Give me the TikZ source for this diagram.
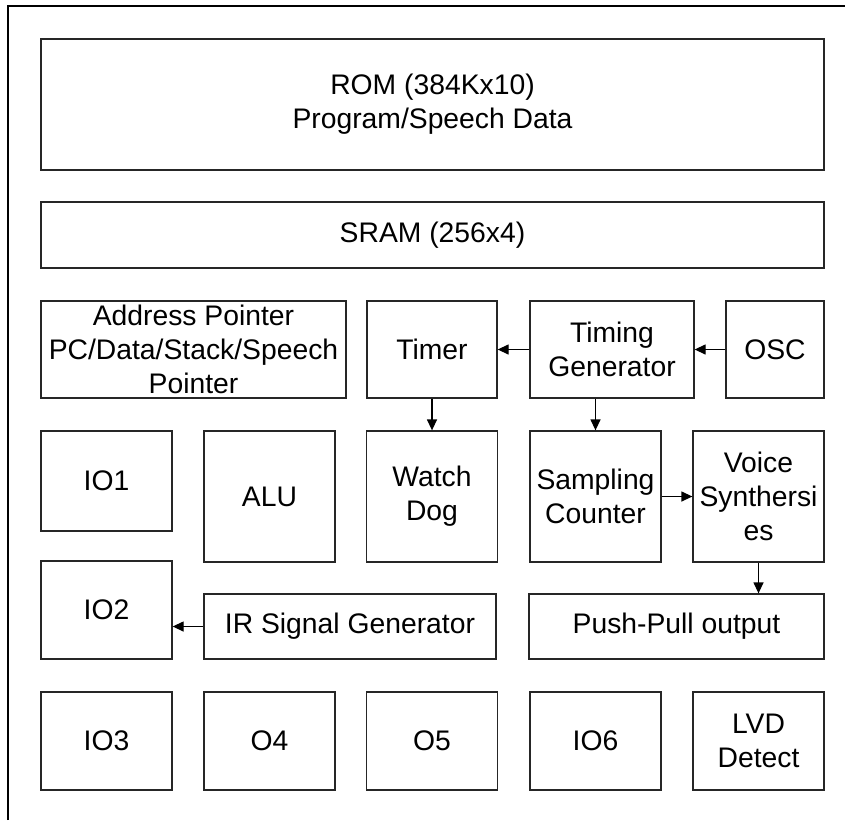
\documentclass[tikz,border=0pt]{standalone}
\usepackage{fontspec}
\setmainfont{Liberation Sans}
\usetikzlibrary{arrows.meta}

\begin{document}
\begin{tikzpicture}[x=1pt, y=-1pt, >={Triangle[length=11pt,width=10pt]}]
    \tikzstyle{block} = [draw=black!85, line width=1.3pt, rectangle, inner sep=0pt,
	align=center, font=\fontsize{28.3}{34}\selectfont]
    \tikzstyle{small} = [block, minimum width=131pt, minimum height=131pt]

    \useasboundingbox (0,0) rectangle (845,820);
    \draw[line width=2.2pt] (8,820) -- (8,6) -- (845,6);

	\path[->, line width=1.3pt]
		node[block, minimum width=783pt, minimum height=131pt] (rom) at (432.5,104.5) {ROM (384Kx10)\\Program/Speech Data}
		node[block, minimum width=783pt, minimum height=66pt] (sram) at (432.5,235) {SRAM (256x4)}

		node[block, minimum width=305pt, minimum height=97pt] (addr) at (193.5,349.5) {Address Pointer\\PC/Data/Stack/Speech\\Pointer}
		node[block, minimum width=130pt, minimum height=97pt] (timer) at (432,349.5) {Timer}
		node[block, minimum width=164pt, minimum height=97pt] (tgen) at (612,349.5) {Timing\\Generator}
		node[block, minimum width=98pt, minimum height=97pt] (osc) at (775,349.5) {OSC}

		node[block, minimum width=131pt, minimum height=100pt] (io1) at (106.5,481) {IO1}
		node[small] (alu) at (269.5,496.5) {ALU}
		node[small] (wdog) at (432,496.5) {Watch\\Dog}
		node[small] (samp) at (595.5,496.5) {Sampling\\Counter}
		node[small] (voice) at (758.5,496.5) {Voice\\Synthersi\\es}

		node[block, minimum width=131pt, minimum height=98pt] (io2) at (106.5,610) {IO2}
		node[block, minimum width=292pt, minimum height=65pt] (irgen) at (350,626.5) {IR Signal Generator}
		node[block, minimum width=295pt, minimum height=65pt] (push) at (676.5,626.5) {Push-Pull output}

		node[block, minimum width=131pt, minimum height=98pt] (io3) at (106.5,741) {IO3}
		node[block, minimum width=131pt, minimum height=98pt] (o4) at (269.5,741) {O4}
		node[block, minimum width=131pt, minimum height=98pt] (o5) at (432,741) {O5}
		node[block, minimum width=131pt, minimum height=98pt] (io6) at (595.5,741) {IO6}
		node[block, minimum width=131pt, minimum height=98pt] (lvd) at (758.5,741) {LVD\\Detect}

		(osc) edge (tgen)
		(tgen) edge (timer)
		(timer) edge (wdog)
		(samp.north |- tgen.south) edge (samp.north)
		(samp) edge (voice)
		(voice.south) edge (voice.south |- push.north)
		(irgen.west) edge (irgen.west -| io2.east)
	;
\end{tikzpicture}
\end{document}
